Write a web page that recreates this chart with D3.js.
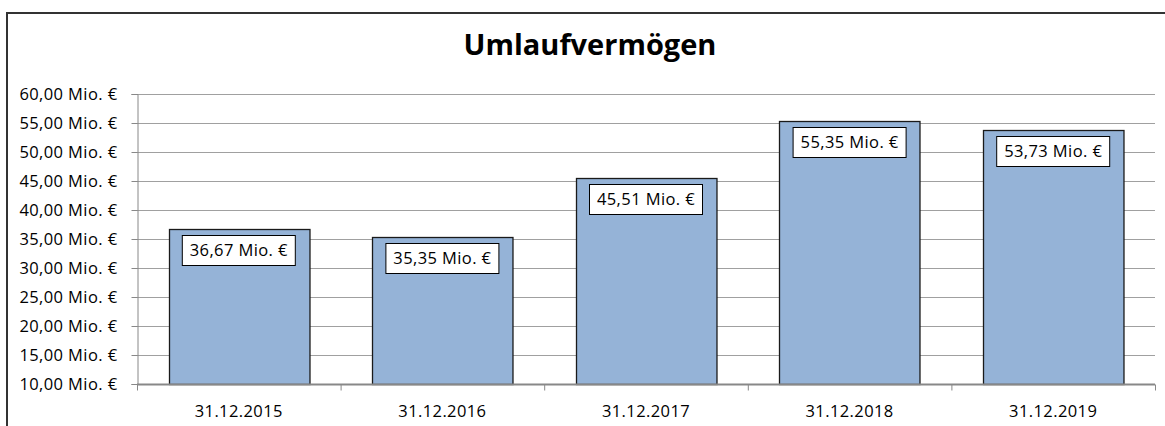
<!DOCTYPE html>
<html>
<head>
<meta charset="utf-8">
<script src="https://cdn.jsdelivr.net/npm/d3@7"></script>
<style>
  html, body { margin: 0; background: #fff; overflow: hidden; }
  svg { display: block; font-family: "Open Sans", sans-serif; }
</style>
</head>
<body>
<div id="chart"></div>
<script>
// Daten
const categories = ['31.12.2015', '31.12.2016', '31.12.2017', '31.12.2018', '31.12.2019'];
const values = [36.67, 35.35, 45.51, 55.35, 53.73];
const yTicks = [10, 15, 20, 25, 30, 35, 40, 45, 50, 55, 60];

const width = 1165, height = 426;
const margin = { left: 137, right: 10, top: 94, bottom: 42 };

const fmt = v => d3.format('.2f')(v).replace('.', ',') + ' Mio. €';

const svg = d3.select('#chart').append('svg')
    .attr('width', width)
    .attr('height', height);

// Rahmen (nur links und oben sichtbar)
svg.append('path')
    .attr('d', `M7,${height} V13 H${width}`)
    .attr('fill', 'none')
    .attr('stroke', '#333')
    .attr('stroke-width', 2);

// Titel
svg.append('text')
    .attr('x', 590).attr('y', 55)
    .attr('text-anchor', 'middle')
    .attr('font-size', '29px')
    .attr('font-weight', 'bold')
    .text('Umlaufvermögen');

const x = d3.scaleBand()
    .domain(categories)
    .range([margin.left, width - margin.right])
    .paddingInner(0.31)
    .paddingOuter(0.155);

const y = d3.scaleLinear()
    .domain([10, 60])
    .range([height - margin.bottom, margin.top]);

// Gitterlinien
svg.append('g')
    .selectAll('line')
    .data(yTicks.slice(1))
    .join('line')
    .attr('x1', margin.left).attr('x2', width - margin.right)
    .attr('y1', d => Math.round(y(d)) + 0.5)
    .attr('y2', d => Math.round(y(d)) + 0.5)
    .attr('stroke', '#a0a0a0');

// Y-Achse
const yAxis = svg.append('g')
    .attr('transform', `translate(${margin.left + 0.5},0)`)
    .call(d3.axisLeft(y).tickValues(yTicks).tickFormat(fmt).tickSize(6).tickPadding(14));
yAxis.selectAll('.domain, line').attr('stroke', '#888');
yAxis.selectAll('text')
    .attr('font-size', '16.5px')
    .attr('letter-spacing', '0.4px')
    .attr('fill', '#000')
    .attr('font-family', '"Open Sans", sans-serif');

// Balken
svg.append('g')
    .selectAll('rect')
    .data(values)
    .join('rect')
    .attr('x', (d, i) => Math.round(x(categories[i])) + 0.5)
    .attr('y', d => Math.round(y(d)) + 0.5)
    .attr('width', x.bandwidth())
    .attr('height', d => y(10) - Math.round(y(d)))
    .attr('fill', '#95b3d7')
    .attr('stroke', '#1a1a1a')
    .attr('stroke-width', 1.3);

// X-Achse
const xAxis = svg.append('g')
    .attr('transform', `translate(0,${Math.round(y(10)) + 0.5})`);
xAxis.append('line')
    .attr('x1', margin.left).attr('x2', width - margin.right)
    .attr('stroke', '#888').attr('stroke-width', 2);
const step = x.step();
xAxis.selectAll('.tk')
    .data(d3.range(categories.length + 1))
    .join('line')
    .attr('class', 'tk')
    .attr('x1', i => margin.left + i * step + 0.5)
    .attr('x2', i => margin.left + i * step + 0.5)
    .attr('y1', 0).attr('y2', 6)
    .attr('stroke', '#888');
xAxis.selectAll('text')
    .data(categories)
    .join('text')
    .attr('x', d => x(d) + x.bandwidth() / 2)
    .attr('y', 32)
    .attr('text-anchor', 'middle')
    .attr('font-size', '16.5px')
    .attr('letter-spacing', '0.4px')
    .text(d => d);

// Datenbeschriftungen
const lab = svg.append('g')
    .selectAll('g')
    .data(values)
    .join('g')
    .attr('transform', (d, i) => `translate(${x(categories[i]) + x.bandwidth() / 2},${Math.round(y(d)) + 6})`);
lab.append('rect')
    .attr('x', -56.5).attr('y', 0.5)
    .attr('width', 113).attr('height', 30)
    .attr('fill', '#fff')
    .attr('stroke', '#000');
lab.append('text')
    .attr('y', 21)
    .attr('text-anchor', 'middle')
    .attr('font-size', '16.5px')
    .attr('letter-spacing', '0.4px')
    .text(d => fmt(d));
</script>
</body>
</html>
